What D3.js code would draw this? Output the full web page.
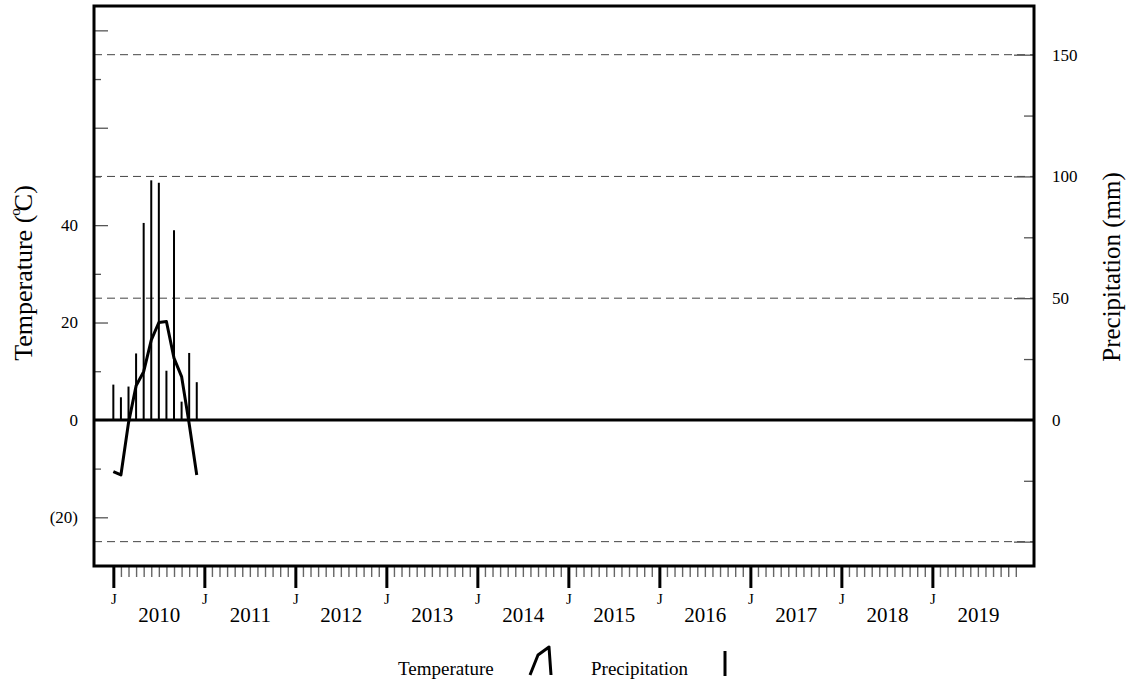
<!DOCTYPE html>
<html><head><meta charset="utf-8">
<script src="https://cdn.jsdelivr.net/npm/d3@7"></script>
<style>
body{margin:0;background:#fff}
svg{display:block}
text{font-family:"Liberation Serif","Times New Roman",serif;fill:#000}
</style>
</head><body>
<svg id="c" width="1132" height="685"></svg>
<script>
// ---- data ----
const monthLetters = ["J","F","M","A","M","J","J","A","S","O","N","D"];
const years = [2010,2011,2012,2013,2014,2015,2016,2017,2018,2019];
const tempValues = [-10.6,-11.3,-0.6,7.0,9.9,16.4,20.0,20.2,12.7,8.9,-0.8,-11.3];   // °C, Jan–Dec 2010
const precipValues = [14.5,9.3,13.7,27.3,80.9,98.4,97.4,20.2,77.9,7.5,27.5,15.5]; // mm, Jan–Dec 2010
const tempMajorTicks = [-20,0,20,40,60,80];
const tempMinorTicks = [-10,10,30,50,70];
const tempLabelTicks = [-20,0,20,40];
const tempLabelText = ["(20)","0","20","40"];
const precipMajorTicks = [-50,0,50,100,150];
const precipMinorTicks = [-25,25,75,125];
const precipLabelTicks = [0,50,100,150];
const precipGrid = [-50,50,100,150];

// ---- layout ----
const L=94, R=1034, T=6, B=566;
const svg = d3.select("#c");
const nMonths = years.length*12;
const x = d3.scaleLinear().domain([-2.55, 121.4]).range([L,R]);
const yT = d3.scaleLinear().domain([-30,85]).range([B,T]);
const yP = d3.scaleLinear().domain([-60,170]).range([B,T]);
const FONT = "Liberation Serif";

// dashed grid
svg.append("g").selectAll("line").data(precipGrid).join("line")
  .attr("x1",L).attr("x2",R).attr("y1",d=>yP(d)).attr("y2",d=>yP(d))
  .attr("stroke","#444").attr("stroke-width",1).attr("stroke-dasharray","8,5");

function styleAxis(g,color,w){g.select(".domain").remove();g.selectAll(".tick line").attr("stroke",color).attr("stroke-width",w);}
function styleText(g,size){g.select(".domain").remove();g.selectAll("text").attr("font-size",size).attr("font-family",FONT).attr("fill","#000");}

// left ticks (inward)
svg.append("g").attr("transform",`translate(${L},0)`)
  .call(d3.axisRight(yT).tickValues(tempMajorTicks).tickSize(14).tickFormat(""))
  .call(g=>styleAxis(g,"#555",1.3));
svg.append("g").attr("transform",`translate(${L},0)`)
  .call(d3.axisRight(yT).tickValues(tempMinorTicks).tickSize(7).tickFormat(""))
  .call(g=>styleAxis(g,"#555",1.3));
svg.append("g").attr("transform",`translate(${L-16},0)`)
  .call(d3.axisLeft(yT).tickValues(tempLabelTicks).tickSize(0).tickPadding(0)
        .tickFormat((d,i)=>tempLabelText[i]))
  .call(g=>styleText(g,17));

// right ticks (inward)
svg.append("g").attr("transform",`translate(${R},0)`)
  .call(d3.axisLeft(yP).tickValues(precipMajorTicks).tickSize(20).tickFormat(""))
  .call(g=>styleAxis(g,"#555",1.3));
svg.append("g").attr("transform",`translate(${R},0)`)
  .call(d3.axisLeft(yP).tickValues(precipMinorTicks).tickSize(10).tickFormat(""))
  .call(g=>styleAxis(g,"#555",1.3));
svg.append("g").attr("transform",`translate(${R+18},0)`)
  .call(d3.axisRight(yP).tickValues(precipLabelTicks).tickSize(0).tickPadding(0))
  .call(g=>styleText(g,17));

// bottom ticks
const monthIdx = d3.range(nMonths);
const majorIdx = monthIdx.filter(i=>i%12===0);
const minorIdx = monthIdx.filter(i=>i%12!==0);
svg.append("g").attr("transform",`translate(0,${B})`)
  .call(d3.axisBottom(x).tickValues(minorIdx).tickSize(11).tickFormat(""))
  .call(g=>styleAxis(g,"#666",1.4));
svg.append("g").attr("transform",`translate(0,${B})`)
  .call(d3.axisBottom(x).tickValues(majorIdx).tickSize(22).tickFormat(""))
  .call(g=>styleAxis(g,"#000",3));
svg.append("g").attr("transform",`translate(0,${B})`)
  .call(d3.axisBottom(x).tickValues(majorIdx).tickSize(0).tickPadding(27)
        .tickFormat(i=>monthLetters[i%12]))
  .call(g=>styleText(g,15));
svg.append("g").attr("transform",`translate(0,${B})`)
  .call(d3.axisBottom(x).tickValues(majorIdx.map(i=>i+6)).tickSize(0).tickPadding(41)
        .tickFormat(i=>years[Math.floor(i/12)]))
  .call(g=>styleText(g,21));

// precipitation bars
svg.append("g").selectAll("rect").data(precipValues).join("rect")
  .attr("x",(d,i)=>x(i)-1).attr("width",2)
  .attr("y",d=>yP(d)).attr("height",d=>yP(0)-yP(d)).attr("fill","#000");

// zero line
svg.append("line").attr("x1",L).attr("x2",R).attr("y1",yT(0)).attr("y2",yT(0))
  .attr("stroke","#000").attr("stroke-width",3);

// temperature line
svg.append("path").datum(tempValues)
  .attr("d",d3.line().x((d,i)=>x(i)).y(d=>yT(d)))
  .attr("fill","none").attr("stroke","#000").attr("stroke-width",3).attr("stroke-linejoin","round");

// frame
svg.append("rect").attr("x",L).attr("y",T).attr("width",R-L).attr("height",B-T)
  .attr("fill","none").attr("stroke","#000").attr("stroke-width",3);

// axis titles
const lt = svg.append("text").attr("transform",`translate(32,273) rotate(-90)`)
  .attr("text-anchor","middle").attr("font-size",26);
lt.append("tspan").text("Temperature (");
lt.append("tspan").attr("font-size",15).attr("dy",-12).attr("dx",-1).text("o");
lt.append("tspan").attr("dy",12).attr("dx",-3).text("C)");
svg.append("text").attr("transform",`translate(1120,267) rotate(-90)`)
  .attr("text-anchor","middle").attr("font-size",25).text("Precipitation (mm)");

// legend
svg.append("text").attr("x",398).attr("y",675).attr("font-size",19).text("Temperature");
svg.append("path").attr("d","M530,675 L538,655 L549,647 L551,675")
  .attr("fill","none").attr("stroke","#000").attr("stroke-width",3).attr("stroke-linejoin","round");
svg.append("text").attr("x",591).attr("y",675).attr("font-size",19).text("Precipitation");
svg.append("line").attr("x1",725).attr("x2",725).attr("y1",651).attr("y2",676)
  .attr("stroke","#000").attr("stroke-width",3);
</script>
</body></html>
